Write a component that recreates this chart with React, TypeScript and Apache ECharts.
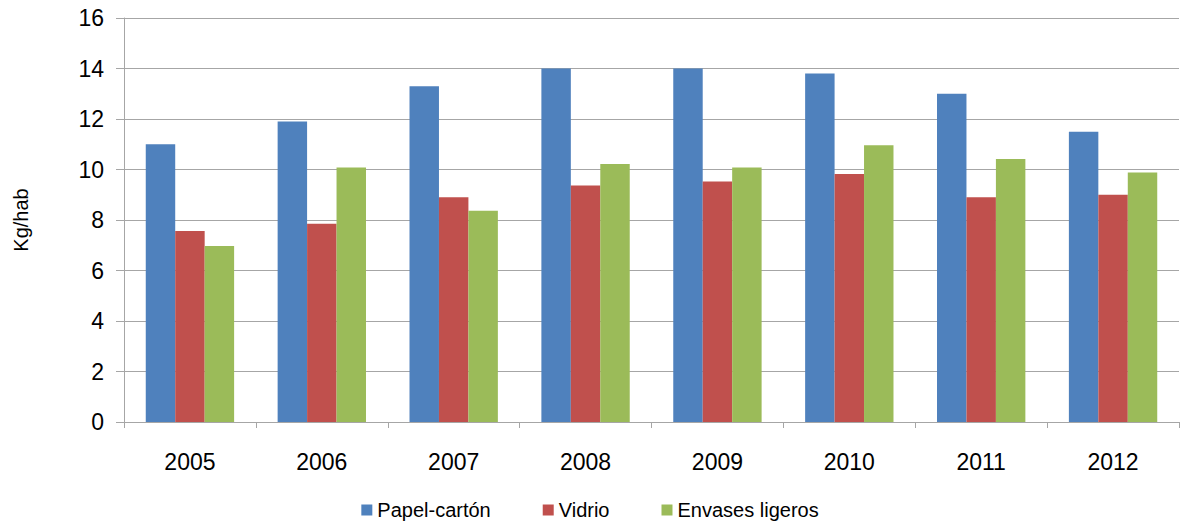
import React, { useEffect, useRef } from "react";
import * as echarts from "echarts";

const categories = ["2005", "2006", "2007", "2008", "2009", "2010", "2011", "2012"];
const papelCarton = [11.0, 11.9, 13.3, 14.0, 14.0, 13.8, 13.0, 11.5];
const vidrio = [7.56, 7.85, 8.9, 9.37, 9.52, 9.82, 8.9, 9.0];
const envasesLigeros = [6.97, 10.08, 8.37, 10.22, 10.08, 10.96, 10.42, 9.88];
const seriesNames = ["Papel-cartón", "Vidrio", "Envases ligeros"];
const colors = ["#4F81BD", "#C0504D", "#9BBB59"];

export default function App() {
  const ref = useRef<HTMLDivElement>(null);
  useEffect(() => {
    if (!ref.current) return;
    const chart = echarts.init(ref.current, undefined, { renderer: "svg" });
    const font = "'Liberation Sans', Arial, sans-serif";
    const data = [papelCarton, vidrio, envasesLigeros];
    chart.setOption({
      animation: false,
      backgroundColor: "#fff",
      textStyle: { fontFamily: font },
      legend: {
        top: 495,
        left: "center",
        itemWidth: 11,
        itemHeight: 11,
        itemGap: 52,
        icon: "rect",
        textStyle: { fontSize: 20, color: "#000", fontFamily: font },
        data: seriesNames,
      },
      grid: { left: 124, right: 1, top: 18, bottom: 105, containLabel: false },
      xAxis: {
        type: "category",
        data: categories,
        axisLine: { lineStyle: { color: "#A6A6A6", width: 1 } },
        axisTick: { show: true, length: 6, lineStyle: { color: "#A6A6A6" } },
        axisLabel: { color: "#000", fontSize: 23, margin: 28, fontFamily: font },
        splitLine: { show: false },
      },
      yAxis: {
        type: "value",
        min: 0,
        max: 16,
        interval: 2,
        name: "Kg/hab",
        nameLocation: "middle",
        nameGap: 93,
        nameRotate: 90,
        nameTextStyle: { fontSize: 20, color: "#000", fontFamily: font },
        axisLine: { show: true, lineStyle: { color: "#A6A6A6", width: 1 } },
        axisTick: { show: true, length: 8, lineStyle: { color: "#A6A6A6" } },
        axisLabel: { color: "#000", fontSize: 23, margin: 20, fontFamily: font },
        splitLine: { show: true, lineStyle: { color: "#A6A6A6", width: 1 } },
      },
      series: seriesNames.map((name, i) => ({
        name,
        type: "bar",
        data: data[i],
        barGap: "0%",
        barCategoryGap: "33%",
        itemStyle: { color: colors[i] },
      })),
    });
    return () => chart.dispose();
  }, []);
  return <div ref={ref} style={{ position: "fixed", left: 0, top: 0, width: 1180, height: 527 }} />;
}
